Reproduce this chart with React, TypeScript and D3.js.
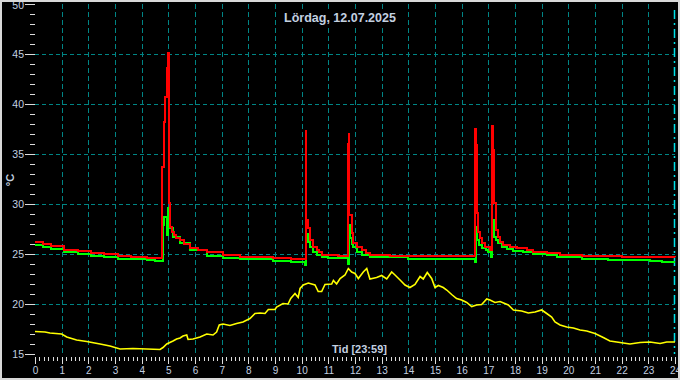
import React from 'react';
import * as d3 from 'd3';

const titleText = 'Lördag, 12.07.2025';
const xAxisTitle = 'Tid [23:59]';
const yAxisTitle = '°C';

const xTickLabels = ['0','1','2','3','4','5','6','7','8','9','10','11','12','13','14','15','16','17','18','19','20','21','22','23','24'];
const yTickLabels = [15, 20, 25, 30, 35, 40, 45, 50];
const yGridValues = [20, 25, 30, 35, 40, 45];

// red sensor [hour, °C]
const redSeries: [number, number][] = [
  [0, 26.2], [0.3, 26.0], [0.6, 25.8], [1.1, 25.45], [1.6, 25.3], [2.1, 25.15], [2.6, 25.0], [3.1, 24.85],
  [3.6, 24.75], [4.2, 24.65], [4.78, 33.7], [4.83, 38.2], [4.89, 40.7], [4.95, 43.6], [5.0, 45.1], [5.03, 30.1],
  [5.06, 27.7], [5.12, 27.2], [5.2, 26.9], [5.3, 26.6], [5.44, 26.4], [5.6, 26.0], [5.81, 25.6], [6.1, 25.4],
  [6.44, 25.2], [7.06, 24.9], [7.69, 24.7], [8.94, 24.6], [9.6, 24.5],
  [10.15, 37.3], [10.18, 28.4], [10.22, 27.6], [10.31, 26.4], [10.44, 25.7], [10.56, 25.4], [10.65, 25.2],
  [10.75, 24.95], [11.0, 24.9], [11.35, 24.8],
  [11.72, 36.0], [11.76, 37.0], [11.79, 28.9], [11.875, 27.1], [11.94, 26.1], [12.06, 25.7], [12.25, 25.4],
  [12.4, 25.1], [12.56, 24.95], [13.3, 24.85],
  [16.51, 37.5], [16.54, 35.9], [16.56, 29.1], [16.62, 27.2], [16.69, 26.6], [16.75, 26.1], [16.875, 25.7],
  [17.06, 25.4],
  [17.15, 37.8], [17.18, 35.4], [17.21, 30.1], [17.29, 27.4], [17.375, 26.7], [17.44, 26.2], [17.56, 25.9],
  [17.81, 25.7], [18.06, 25.6], [18.44, 25.4], [18.69, 25.2], [19.19, 25.07], [19.69, 24.95], [20.5, 24.85],
  [22.0, 24.75], [24, 24.7],
];

// green sensor [hour, °C]
const greenSeries: [number, number][] = [
  [0, 25.95], [0.3, 25.75], [0.6, 25.55], [1.1, 25.2], [1.6, 25.0], [2.1, 24.85], [2.6, 24.7], [3.1, 24.55],
  [3.6, 24.5], [4.2, 24.4], [4.5, 24.3], [4.79, 27.9], [4.85, 28.7], [4.95, 26.9], [5.0, 29.6], [5.04, 27.9],
  [5.06, 27.6], [5.19, 26.7], [5.44, 26.1], [5.81, 25.4], [6.44, 24.8], [7.06, 24.6], [7.69, 24.5],
  [8.94, 24.3], [9.6, 24.2],
  [10.14, 23.9], [10.17, 27.0], [10.22, 26.2], [10.31, 25.7], [10.44, 25.2], [10.56, 24.9], [10.75, 24.7],
  [11.0, 24.6],
  [11.74, 24.0], [11.76, 27.9], [11.8, 26.6], [11.875, 26.0], [11.94, 25.7], [12.06, 25.2], [12.25, 24.9],
  [12.56, 24.7], [14.0, 24.55],
  [16.5, 24.2], [16.52, 27.7], [16.58, 26.4], [16.64, 25.9], [16.75, 25.6], [16.9, 25.4], [17.0, 25.2],
  [17.1, 24.7], [17.15, 28.4], [17.21, 26.7], [17.29, 26.4], [17.375, 26.1], [17.5, 25.7], [17.69, 25.5],
  [17.94, 25.3], [18.31, 25.2], [18.69, 25.0], [19.19, 24.9], [19.56, 24.7], [20.5, 24.55], [21.5, 24.45],
  [23.06, 24.35], [23.5, 24.2], [24, 24.2],
];

// yellow sensor (outdoor) [hour, °C]
const yellowSeries: [number, number][] = [
  [0, 17.25], [0.375, 17.2], [0.56, 17.1], [1.0, 17.0], [1.19, 16.7], [1.56, 16.4], [1.94, 16.25], [2.44, 16.0],
  [2.81, 15.8], [3.19, 15.5], [3.675, 15.55], [4.19, 15.5], [4.69, 15.45], [4.8, 15.65], [4.94, 16.0],
  [5.175, 16.3], [5.31, 16.5], [5.44, 16.6], [5.55, 16.8], [5.69, 16.9], [5.74, 16.45], [5.925, 16.5],
  [6.19, 16.7], [6.44, 17.0], [6.675, 16.9], [6.81, 17.2], [6.91, 17.9], [7.05, 18.0], [7.31, 17.85],
  [7.56, 18.05], [7.8, 18.2], [8.06, 18.55], [8.25, 19.05], [8.44, 19.1], [8.625, 19.05], [8.75, 19.45],
  [9.0, 19.45], [9.06, 19.7], [9.3, 20.05], [9.49, 20.0], [9.59, 20.55], [9.75, 21.05], [9.87, 20.65],
  [9.94, 21.55], [10.06, 21.9], [10.25, 22.1], [10.375, 22.0], [10.5, 21.9], [10.62, 21.25], [10.75, 21.25],
  [10.875, 21.95], [11.125, 22.0], [11.19, 22.35], [11.31, 22.0], [11.44, 22.55], [11.625, 22.9],
  [11.75, 23.55], [11.875, 23.2], [12.0, 23.05], [12.125, 22.55], [12.31, 23.2], [12.44, 23.55],
  [12.56, 22.5], [12.81, 22.65], [13.0, 22.85], [13.19, 22.5], [13.375, 23.2], [13.5, 22.9], [13.69, 22.4],
  [13.875, 21.9], [14.06, 21.65], [14.25, 21.95], [14.44, 22.75], [14.56, 22.5], [14.71, 23.15],
  [14.875, 22.55], [15.0, 21.65], [15.125, 21.85], [15.31, 21.65], [15.44, 21.4], [15.625, 20.95],
  [15.81, 20.55], [16.0, 20.4], [16.19, 20.15], [16.375, 19.75], [16.56, 19.9], [16.75, 19.95], [16.94, 20.5],
  [17.06, 20.4], [17.25, 20.15], [17.44, 20.25], [17.75, 19.9], [17.94, 19.4], [18.25, 19.3], [18.5, 19.1],
  [18.75, 19.2], [19.0, 19.4], [19.19, 19.05], [19.375, 18.7], [19.5, 18.2], [19.69, 17.9], [19.94, 17.7],
  [20.19, 17.6], [20.44, 17.4], [20.69, 17.3], [21.0, 17.05], [21.31, 16.65], [21.56, 16.3], [21.94, 16.15],
  [22.31, 16.0], [22.69, 16.15], [23.06, 16.2], [23.44, 16.05], [23.69, 16.2], [24, 16.2],
];

const W = 680;
const H = 380;
const TEXT = '#c3d0e0';
const GRID = '#008585';
const TICK = '#dcdcdc';
const FONT = '"Liberation Sans", Arial, sans-serif';

export default function App() {
  const x = d3.scaleLinear().domain([0, 24]).range([35, 675]);
  const y = d3.scaleLinear().domain([15, 50]).range([354, 4]);

  const stepLine = d3.line<[number, number]>().x(d => x(d[0])).y(d => y(d[1])).curve(d3.curveStepAfter);
  const linLine = d3.line<[number, number]>().x(d => x(d[0])).y(d => y(d[1]));

  const minorY = d3.range(15, 51, 1);
  const minorX = d3.range(0, 24 * 6 + 1).map(i => i / 6);
  const gridX = d3.range(1, 24);

  return (
    <svg width={W} height={H} style={{ position: 'absolute', left: 0, top: 0, background: '#000' }}>
      <rect x={0} y={0} width={W} height={H} fill="#000" />
      {/* horizontal grid */}
      {yGridValues.map(v => (
        <line key={'hg' + v} x1={x(0)} x2={x(24)} y1={Math.round(y(v)) + 0.5} y2={Math.round(y(v)) + 0.5}
          stroke={GRID} strokeWidth={1} strokeDasharray="4,3" shapeRendering="crispEdges" />
      ))}
      {/* vertical grid */}
      {gridX.map(h => (
        <line key={'vg' + h} x1={Math.round(x(h)) + 0.5} x2={Math.round(x(h)) + 0.5} y1={y(50)} y2={y(15)}
          stroke={GRID} strokeWidth={1} strokeDasharray="5,3" shapeRendering="crispEdges" />
      ))}
      {/* current time marker */}
      <line x1={x(24) - 0.5} x2={x(24) - 0.5} y1={y(50) + 6} y2={y(15)} stroke="#00e0e8" strokeWidth={1.5}
        strokeDasharray="9,4,2,4" />
      {/* title boxes */}
      <rect x={280} y={11} width={120} height={14} fill="#000" />
      <rect x={326} y={340} width={66} height={15} fill="#000" />

      <path d={linLine(yellowSeries) || ''} fill="none" stroke="#ffff00" strokeWidth={1.6} />
      <path d={stepLine(greenSeries) || ''} fill="none" stroke="#00ff00" strokeWidth={2} shapeRendering="crispEdges" />
      <path d={stepLine(redSeries) || ''} fill="none" stroke="#ff0000" strokeWidth={2} shapeRendering="crispEdges" />

      {/* y axis ticks */}
      {minorY.map(v => (
        <line key={'ym' + v} x1={v % 5 === 0 ? 25 : 30} x2={35} y1={Math.round(y(v)) + 0.5} y2={Math.round(y(v)) + 0.5}
          stroke={TICK} strokeWidth={1} shapeRendering="crispEdges" />
      ))}
      {yTickLabels.map(v => (
        <text key={'yl' + v} x={24} y={v === 50 ? y(v) + 1 : y(v)} dy="0.35em" textAnchor="end" fill={TEXT}
          fontFamily={FONT} fontSize={10.5}>{v}</text>
      ))}
      <text transform={`translate(14,180) rotate(-90)`} textAnchor="middle" fill={TEXT} fontFamily={FONT}
        fontSize={11} fontWeight="bold">{yAxisTitle}</text>

      {/* x axis ticks */}
      {minorX.map((h, i) => (
        <line key={'xm' + i} x1={Math.round(x(h)) + 0.5} x2={Math.round(x(h)) + 0.5} y1={357}
          y2={i % 6 === 0 ? 364 : 361} stroke={TICK} strokeWidth={1} shapeRendering="crispEdges" />
      ))}
      {xTickLabels.map((lab, i) => (
        <text key={'xl' + i} x={x(i) + 0.5} y={374} textAnchor="middle" fill={TEXT} fontFamily={FONT}
          fontSize={10}>{lab}</text>
      ))}

      <text x={340} y={22} textAnchor="middle" fill={TEXT} fontFamily={FONT} fontSize={12.5}
        fontWeight="bold">{titleText}</text>
      <text x={359.5} y={353} textAnchor="middle" fill={TEXT} fontFamily={FONT} fontSize={11}
        fontWeight="bold">{xAxisTitle}</text>

      <rect x={1} y={1} width={W - 2} height={H - 2} fill="none" stroke="#d8d8d8" strokeWidth={2} />
    </svg>
  );
}
